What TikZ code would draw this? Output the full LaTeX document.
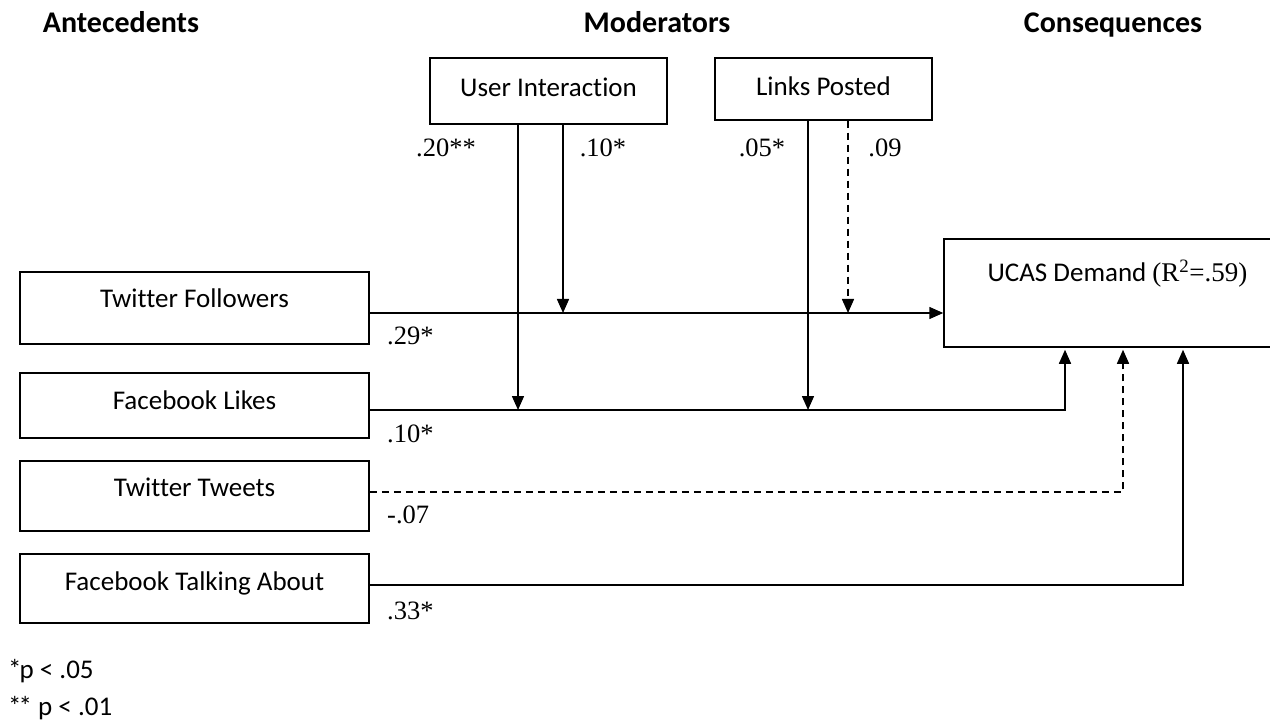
\documentclass[tikz,border=0pt]{standalone}
\usepackage{fontspec}
\setmainfont{Carlito}[Ligatures=NoCommon]
\newfontfamily\numfont{Liberation Serif}
\usetikzlibrary{arrows.meta}
\begin{document}
\begin{tikzpicture}[x=1pt,y=-1pt,
  box/.style={draw, line width=1.5pt, inner sep=0pt, text height=16pt, font=\fontsize{27}{32}\selectfont},
  conn/.style={line width=1.5pt, -{Triangle[length=14pt,width=12pt]}},
  dsh/.style={dash pattern=on 7pt off 5pt},
  num/.style={font=\numfont\fontsize{26.5}{30}\selectfont, inner sep=0pt},
  head/.style={font=\bfseries\fontsize{30}{34}\selectfont, inner sep=0pt, anchor=base},
  foot/.style={font=\fontsize{27}{32}\selectfont, inner sep=0pt, anchor=base west}
]
\useasboundingbox (0,0) rectangle (1270,722);
\clip (0,0) rectangle (1270,722);

% headers
\node[head] (hA) at (121,33) {Antecedents};
\node[head] (hM) at (657,33) {Moderators};
\node[head] (hC) at (1113,33) {Consequences};

% boxes
\node[box, minimum width=349pt, minimum height=72pt, text depth=16pt] (tf) at (194.5,308) {Twitter Followers};
\node[box, minimum width=349pt, minimum height=65pt, text depth=7.6pt] (fl) at (194.5,405.5) {Facebook Likes};
\node[box, minimum width=349pt, minimum height=70pt, text depth=14.6pt] (tt) at (194.5,496) {Twitter Tweets};
\node[box, minimum width=349pt, minimum height=69pt, text depth=11.6pt] (fta) at (194.5,588.5) {Facebook Talking About};
\node[box, minimum width=237pt, minimum height=66pt, text depth=4.6pt] (ui) at (548.5,91) {User Interaction};
\node[box, minimum width=217pt, minimum height=62pt, text depth=2.6pt] (lp) at (823.5,89) {Links Posted};
\node[box, minimum width=347pt, minimum height=108pt, text depth=39.6pt] (ucas) at (1117.5,293) {UCAS Demand {\numfont(R\textsuperscript{2}=.59)}};

% line coordinates
\coordinate (tfl) at ([yshift=-5pt]tf.east);
\coordinate (fll) at ([yshift=-4.5pt]fl.east);
\coordinate (ttl) at ([yshift=4pt]tt.east);
\coordinate (ftal) at ([yshift=3.5pt]fta.east);

% main paths
\draw[conn] (tfl) -- (tfl -| ucas.west);
\draw[conn, shorten >=2pt] (fll) -| ([xshift=-52.5pt]ucas.south);
\draw[conn, dsh, shorten >=2pt] (ttl) -| ([xshift=5.5pt]ucas.south);
\draw[conn, shorten >=2pt] (ftal) -| ([xshift=65.5pt]ucas.south);

% moderator paths
\draw[conn] ([xshift=-30.5pt]ui.south) -- ([xshift=-30.5pt]ui.south |- fll);
\draw[conn] ([xshift=14.5pt]ui.south) -- ([xshift=14.5pt]ui.south |- tfl);
\draw[conn] ([xshift=-15.5pt]lp.south) -- ([xshift=-15.5pt]lp.south |- fll);
\draw[conn, dsh] ([xshift=24.5pt]lp.south) -- ([xshift=24.5pt]lp.south |- tfl);

% coefficients
\node[num] (c1) at (446,148) {.20**};
\node[num] (c2) at (603,148) {.10*};
\node[num] (c3) at (762,148) {.05*};
\node[num] (c4) at (885,148) {.09};
\node[num, anchor=west] (c5) at (387,336) {.29*};
\node[num, anchor=west] (c6) at (387,434) {.10*};
\node[num, anchor=west] (c7) at (387,515) {-.07};
\node[num, anchor=west] (c8) at (387,611) {.33*};

% footnotes
\node[foot] (f1) at (8,678) {*\kern-2pt p < .05};
\node[foot] (f2) at (8,715) {*\kern-3pt* p < .01};
\end{tikzpicture}
\end{document}
